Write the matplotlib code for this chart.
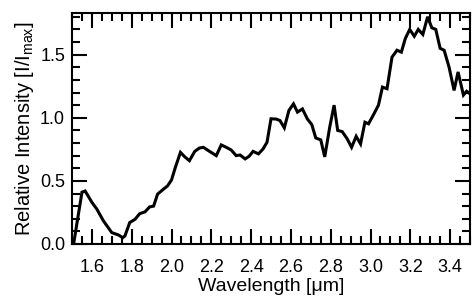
import matplotlib
matplotlib.use("Agg")
import matplotlib.pyplot as plt
from matplotlib.ticker import MultipleLocator

wavelength = [1.508, 1.55, 1.566, 1.60, 1.625, 1.658, 1.70, 1.733, 1.755, 1.766,
              1.79, 1.817, 1.84, 1.867, 1.89, 1.91, 1.93, 1.96, 1.98, 2.00,
              2.02, 2.045, 2.067, 2.09, 2.117, 2.14, 2.16, 2.185, 2.225, 2.25,
              2.275, 2.30, 2.325, 2.345, 2.37, 2.39, 2.41, 2.437, 2.46, 2.48,
              2.50, 2.525, 2.545, 2.567, 2.59, 2.613, 2.633, 2.658, 2.683, 2.705,
              2.725, 2.75, 2.77, 2.795, 2.817, 2.835, 2.858, 2.883, 2.905, 2.928,
              2.95, 2.972, 2.99, 3.017, 3.04, 3.06, 3.083, 3.108, 3.133, 3.155,
              3.175, 3.197, 3.22, 3.24, 3.263, 3.287, 3.308, 3.328, 3.35, 3.37,
              3.395, 3.42, 3.44, 3.467, 3.483, 3.50]
intensity = [0.0, 0.41, 0.42, 0.33, 0.276, 0.183, 0.09, 0.072, 0.05, 0.064,
             0.17, 0.196, 0.24, 0.255, 0.294, 0.30, 0.395, 0.435, 0.46, 0.507,
             0.61, 0.726, 0.69, 0.66, 0.734, 0.76, 0.766, 0.74, 0.70, 0.785,
             0.766, 0.745, 0.70, 0.705, 0.674, 0.695, 0.734, 0.714, 0.753, 0.806,
             0.992, 0.99, 0.978, 0.92, 1.058, 1.11, 1.045, 1.07, 0.99, 0.946,
             0.84, 0.825, 0.69, 0.925, 1.10, 0.90, 0.89, 0.833, 0.766, 0.853,
             0.793, 0.965, 0.952, 1.03, 1.10, 1.243, 1.23, 1.48, 1.535, 1.52,
             1.628, 1.70, 1.646, 1.70, 1.66, 1.80, 1.713, 1.70, 1.55, 1.535,
             1.40, 1.217, 1.363, 1.18, 1.21, 1.19]

x_ticks = [1.6, 1.8, 2.0, 2.2, 2.4, 2.6, 2.8, 3.0, 3.2, 3.4]
y_ticks = [0.0, 0.5, 1.0, 1.5]

plt.rcParams['font.family'] = ['Liberation Sans', 'DejaVu Sans']
plt.rcParams['mathtext.fontset'] = 'custom'
plt.rcParams['mathtext.rm'] = 'Liberation Sans'
plt.rcParams['mathtext.it'] = 'Liberation Sans'

fig = plt.figure(figsize=(4.72, 3.03), dpi=100)
ax = fig.add_axes([72/472, 1 - 244/303, (470 - 72)/472, (244 - 13)/303])

ax.plot(wavelength, intensity, color='black', lw=2.2, solid_joinstyle='miter', clip_on=True)

ax.set_xlim(1.5, 3.5)
ax.set_ylim(0.0, 1.83)
ax.set_xticks(x_ticks)
ax.set_xticklabels([f"{v:.1f}" for v in x_ticks])
ax.set_yticks(y_ticks)
ax.set_yticklabels([f"{v:.1f}" for v in y_ticks])
ax.xaxis.set_minor_locator(MultipleLocator(0.05))
ax.yaxis.set_minor_locator(MultipleLocator(0.1))

ax.tick_params(which='both', direction='in', top=True, right=True, width=1.5,
               labelsize=13, colors='black')
ax.tick_params(which='major', length=11)
ax.tick_params(which='minor', length=6)
ax.tick_params(axis='x', which='major', pad=11)
ax.tick_params(axis='y', which='major', pad=5)
for s in ax.spines.values():
    s.set_linewidth(1.5)

ax.set_xlabel('Wavelength [\u03bcm]', fontsize=14, labelpad=1)
ax.set_ylabel('Relative Intensity [I/I$_{\\mathrm{max}}$]', fontsize=14.5, labelpad=3)

fig.savefig('out.png', dpi=100)
